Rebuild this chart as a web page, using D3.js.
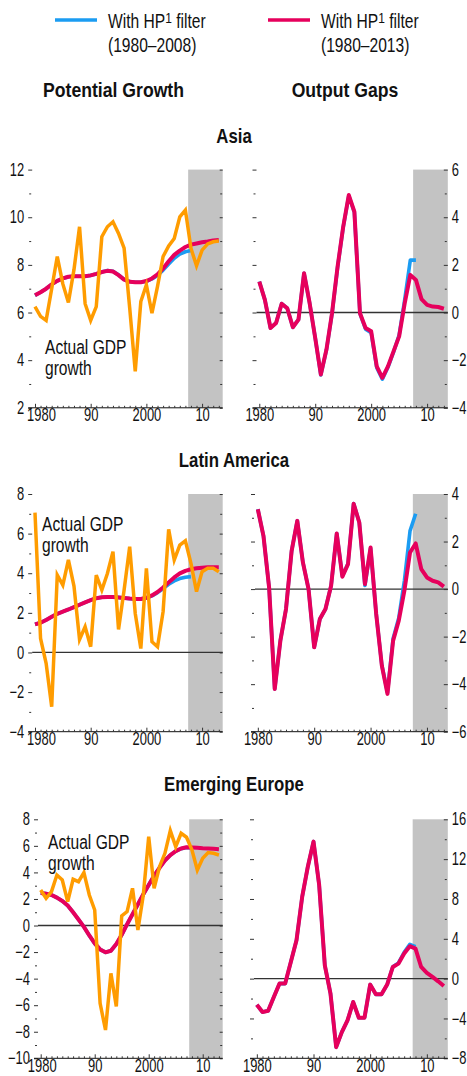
<!DOCTYPE html>
<html>
<head>
<meta charset="utf-8">
<script src="https://cdn.jsdelivr.net/npm/d3@7"></script>
<style>
  body { margin: 0; background: #fff; }
  svg text { font-family: "Liberation Sans", Arial, sans-serif; fill: #111; }
</style>
</head>
<body>
<div id="chart"></div>
<script>
// Years on the x axis (same for every panel)
const years = [1980, 1981, 1982, 1983, 1984, 1985, 1986, 1987, 1988, 1989,
  1990, 1991, 1992, 1993, 1994, 1995, 1996, 1997, 1998, 1999,
  2000, 2001, 2002, 2003, 2004, 2005, 2006, 2007, 2008, 2009,
  2010, 2011, 2012, 2013];
const decadeTicks = [1980, 1990, 2000, 2010];
const decadeLabels = ["1980", "90", "2000", "10"];

// Asia
const asiaActual = [6.25, 5.84, 5.67, 7.0, 8.35, 7.2, 6.42, 7.8, 9.6, 6.37,
  5.67, 6.25, 9.18, 9.6, 9.81, 9.32, 8.7, 6.2, 3.53, 6.46,
  7.16, 5.97, 7.1, 8.35, 8.8, 9.11, 10.02, 10.3, 8.7, 7.96,
  8.62, 8.88, 8.97, 9.0];
const asiaPot13 = [6.72, 6.85, 7.0, 7.18, 7.33, 7.43, 7.5, 7.52, 7.52, 7.52,
  7.56, 7.62, 7.7, 7.75, 7.72, 7.57, 7.38, 7.29, 7.27, 7.27,
  7.32, 7.43, 7.6, 7.85, 8.15, 8.42, 8.6, 8.75, 8.85, 8.9,
  8.95, 8.98, 9.02, 9.04];
const asiaPot08 = [6.72, 6.85, 7.0, 7.18, 7.33, 7.43, 7.5, 7.52, 7.52, 7.52,
  7.56, 7.62, 7.7, 7.76, 7.73, 7.58, 7.39, 7.3, 7.27, 7.27,
  7.31, 7.41, 7.56, 7.78, 8.04, 8.28, 8.45, 8.55, 8.6];
const asiaGap13 = [1.3, 0.53, -0.65, -0.44, 0.37, 0.18, -0.62, -0.3, 1.65, 0.39,
  -1.07, -2.6, -1.56, -0.03, 1.93, 3.6, 4.93, 4.23, -0.03, -0.65,
  -0.79, -2.26, -2.74, -2.26, -1.63, -1.0, 0.39, 1.58, 1.37, 0.56,
  0.32, 0.25, 0.23, 0.16];
const asiaGap08 = [1.3, 0.53, -0.65, -0.44, 0.37, 0.18, -0.62, -0.3, 1.65, 0.39,
  -1.07, -2.62, -1.58, -0.05, 1.9, 3.58, 4.9, 4.2, -0.05, -0.7,
  -0.85, -2.32, -2.8, -2.3, -1.66, -0.95, 0.55, 2.2, 2.2];

// Latin America
const latamActual = [7.06, 0.71, -0.55, -2.74, 3.91, 3.4, 4.67, 3.35, 0.66, 1.3,
  0.29, 3.91, 3.15, 3.99, 5.09, 1.16, 3.15, 5.34, 1.97, 0.2,
  4.25, 0.54, 0.29, 2.06, 6.22, 4.67, 5.42, 5.64, 4.5, 3.07,
  4.08, 4.25, 4.25, 4.08];
const latamPot13 = [1.42, 1.5, 1.64, 1.8, 1.95, 2.06, 2.17, 2.29, 2.41, 2.53,
  2.64, 2.74, 2.79, 2.8, 2.8, 2.78, 2.75, 2.72, 2.7, 2.7,
  2.76, 2.88, 3.05, 3.28, 3.54, 3.79, 3.99, 4.12, 4.2, 4.25,
  4.28, 4.3, 4.3, 4.3];
const latamPot08 = [1.42, 1.5, 1.64, 1.8, 1.95, 2.06, 2.17, 2.29, 2.41, 2.53,
  2.64, 2.74, 2.79, 2.8, 2.8, 2.78, 2.75, 2.72, 2.7, 2.7,
  2.75, 2.86, 3.02, 3.22, 3.44, 3.61, 3.73, 3.8, 3.83];
const latamGap13 = [3.36, 2.24, 0.07, -4.2, -2.17, -0.84, 1.61, 2.87, 1.12, 0.0,
  -2.45, -1.26, -0.84, 0.14, 2.34, 0.52, 1.05, 3.59, 2.8, 0.21,
  1.75, -1.05, -3.22, -4.41, -2.17, -1.33, -0.07, 1.54, 1.92, 0.84,
  0.49, 0.35, 0.28, 0.1];
const latamGap08 = [3.36, 2.24, 0.07, -4.2, -2.17, -0.84, 1.61, 2.87, 1.12, 0.0,
  -2.45, -1.26, -0.84, 0.14, 2.34, 0.55, 1.08, 3.6, 2.8, 0.15,
  1.72, -1.05, -3.2, -4.35, -2.08, -1.22, 0.35, 2.45, 3.17];

// Emerging Europe
const eeActual = [2.68, 2.05, 2.55, 3.8, 3.43, 1.8, 3.48, 3.3, 3.98, 2.3,
  1.17, -5.86, -7.87, -3.6, -6.1, 0.72, 1.05, 2.8, -0.33, 2.3,
  6.7, 2.8, 4.43, 5.44, 7.15, 5.94, 6.95, 6.65, 5.7, 4.18,
  5.06, 5.49, 5.44, 5.31];
const eePot13 = [2.45, 2.4, 2.3, 2.1, 1.85, 1.5, 1.0, 0.45, -0.1, -0.75,
  -1.35, -1.8, -2.02, -1.9, -1.4, -0.7, 0.1, 0.85, 1.6, 2.35,
  3.05, 3.75, 4.35, 4.9, 5.3, 5.6, 5.8, 5.9, 5.88, 5.85,
  5.82, 5.8, 5.78, 5.75];
const eePot08 = [2.45, 2.4, 2.3, 2.1, 1.85, 1.5, 1.0, 0.45, -0.1, -0.75,
  -1.35, -1.8, -2.02, -1.9, -1.4, -0.7, 0.1, 0.85, 1.6, 2.35,
  3.05, 3.75, 4.35, 4.9, 5.3, 5.6, 5.79, 5.88, 5.85];
const eeGap13 = [-2.62, -3.36, -3.22, -1.85, -0.5, -0.5, 1.68, 3.86, 8.2, 11.24,
  13.76, 9.4, 1.34, -1.51, -6.88, -5.37, -4.2, -2.35, -3.93, -3.93,
  -0.6, -1.58, -1.58, -0.6, 1.17, 1.51, 2.52, 3.26, 3.02, 1.17,
  0.57, 0.17, -0.27, -0.74];
const eeGap08 = [-2.62, -3.36, -3.22, -1.85, -0.5, -0.5, 1.68, 3.86, 8.2, 11.24,
  13.76, 9.4, 1.34, -1.51, -6.88, -5.37, -4.2, -2.35, -3.93, -3.93,
  -0.6, -1.58, -1.58, -0.6, 1.2, 1.58, 2.65, 3.45, 3.2];

// Colours
const blue = "#1b9cf2";
const red = "#e6005c";
const orange = "#ff9c00";
const shade = "#c3c3c3";

const W = 467, H = 1076;
const svg = d3.select("#chart").append("svg")
  .attr("width", W)
  .attr("height", H);

// No condensed face is installed, so squeeze text horizontally instead
function condense(sel, s) {
  sel.each(function() {
    const t = d3.select(this);
    const x = +t.attr("x") || 0;
    t.attr("x", x / s).attr("transform", `scale(${s},1)`);
    t.selectAll("tspan").each(function() {
      const ts = d3.select(this);
      if (ts.attr("x") !== null) ts.attr("x", +ts.attr("x") / s);
    });
  });
}

// Legend
const legend = [
  { color: blue, x: 55, label: "(1980–2008)" },
  { color: red, x: 268, label: "(1980–2013)" }
];
legend.forEach(l => {
  svg.append("line")
    .attr("x1", l.x).attr("x2", l.x + 42)
    .attr("y1", 20).attr("y2", 20)
    .attr("stroke", l.color).attr("stroke-width", 3.5);
  const t = svg.append("text").attr("x", l.x + 53).attr("y", 28).style("font-size", "19.5px");
  t.append("tspan").text("With HP");
  t.append("tspan").attr("dy", -5).style("font-size", "15px").text("1");
  t.append("tspan").attr("dy", 5).text(" filter");
  condense(t, 0.8);
  condense(svg.append("text").attr("x", l.x + 53).attr("y", 52.5).style("font-size", "19.5px").text(l.label), 0.8);
});

// Column headers
condense(svg.append("text").attr("x", 113.5).attr("y", 97).attr("text-anchor", "middle")
  .style("font-size", "21px").style("font-weight", "bold").text("Potential Growth"), 0.84);
condense(svg.append("text").attr("x", 345).attr("y", 97).attr("text-anchor", "middle")
  .style("font-size", "21px").style("font-weight", "bold").text("Output Gaps"), 0.84);

const rows = [
  {
    title: "Asia", titleY: 143, top: 169.6, bottom: 407.8,
    left: { x0: 32.2, domain: [2, 12], major: 2, minor: 1, zero: false, actual: asiaActual, full: asiaPot13, short: asiaPot08, note: [45, 354], shift: 6 },
    right: { x0: 256.5, domain: [-4, 6], major: 2, minor: 1, zero: true, full: asiaGap13, short: asiaGap08 }
  },
  {
    title: "Latin America", titleY: 467, top: 494, bottom: 731.7,
    left: { x0: 32.2, domain: [-4, 8], major: 2, minor: 1, zero: true, actual: latamActual, full: latamPot13, short: latamPot08, note: [42, 531.5], shift: 6 },
    right: { x0: 255, domain: [-6, 4], major: 2, minor: 1, zero: true, full: latamGap13, short: latamGap08 }
  },
  {
    title: "Emerging Europe", titleY: 791, top: 819.3, bottom: 1058.3,
    left: { x0: 38, domain: [-10, 8], major: 2, minor: 1, zero: true, actual: eeActual, full: eePot13, short: eePot08, note: [48, 849], shift: 1 },
    right: { x0: 254, domain: [-8, 16], major: 4, minor: 2, zero: true, full: eeGap13, short: eeGap08 }
  }
];

function drawPanel(p, row, side) {
  const x1 = side === "left" ? 222.7 : 447.8;
  const x = d3.scaleLinear().domain([1979.5, 2013.7]).range([p.x0, x1]);
  const y = d3.scaleLinear().domain(p.domain).range([row.bottom, row.top]);
  const g = svg.append("g");

  // shaded projection period
  g.append("rect")
    .attr("x", x(2007.5)).attr("y", y(p.domain[1]))
    .attr("width", x1 - x(2007.5)).attr("height", y(p.domain[0]) - y(p.domain[1]))
    .attr("fill", shade);

  if (p.zero) {
    g.append("line")
      .attr("x1", p.x0).attr("x2", x1)
      .attr("y1", y(0)).attr("y2", y(0))
      .attr("stroke", "#333").attr("stroke-width", 1.3);
  }

  const majors = d3.range(p.domain[0], p.domain[1] + 0.001, p.major);
  const minors = d3.range(p.domain[0], p.domain[1] + 0.001, p.minor).filter(v => !majors.includes(v));

  // y ticks on both sides; labels on the outer side
  const axes = [];
  axes.push(g.append("g").attr("transform", `translate(${p.x0},0)`)
    .call(d3.axisLeft(y).tickValues(majors).tickSize(4).tickPadding(4)
      .tickFormat(side === "left" ? d3.format("d") : "")));
  axes.push(g.append("g").attr("transform", `translate(${p.x0 - 1},0)`)
    .call(d3.axisLeft(y).tickValues(minors).tickSize(2).tickFormat("")));
  if (side === "left") {
    axes.push(g.append("g").attr("transform", `translate(${x1},0)`)
      .call(d3.axisLeft(y).tickValues(majors).tickSize(3).tickFormat("")));
    axes.push(g.append("g").attr("transform", `translate(${x1 - 0.5},0)`)
      .call(d3.axisLeft(y).tickValues(minors).tickSize(2).tickFormat("")));
  } else {
    axes.push(g.append("g").attr("transform", `translate(${x1 - 4},0)`)
      .call(d3.axisRight(y).tickValues(majors).tickSize(4).tickPadding(4).tickFormat(d3.format("d"))));
    axes.push(g.append("g").attr("transform", `translate(${x1 - 3},0)`)
      .call(d3.axisRight(y).tickValues(minors).tickSize(2).tickFormat("")));
  }

  // x axis: line, yearly ticks pointing up, decade labels below
  g.append("line")
    .attr("x1", p.x0 - 4).attr("x2", x1)
    .attr("y1", row.bottom).attr("y2", row.bottom)
    .attr("stroke", "#111").attr("stroke-width", 1);
  axes.push(g.append("g").attr("transform", `translate(0,${row.bottom})`)
    .call(d3.axisBottom(x).tickValues(years.filter(v => !decadeTicks.includes(v))).tickSize(-2).tickFormat("")));
  const xAx = g.append("g").attr("transform", `translate(0,${row.bottom})`)
    .call(d3.axisBottom(x).tickValues(decadeTicks).tickSize(-4).tickPadding(1)
      .tickFormat((d, i) => decadeLabels[i]));
  axes.push(xAx);

  axes.forEach(a => {
    a.select(".domain").remove();
    a.selectAll(".tick line").attr("stroke", "#333");
    a.selectAll(".tick text").style("font-size", "17.5px").attr("fill", "#111")
      .style("font-family", "\"Liberation Sans\", Arial, sans-serif");
    condense(a.selectAll(".tick text"), 0.74);
  });
  if (side === "left") {
    xAx.selectAll(".tick text").filter(d => d === 1980).attr("dx", p.shift / 0.74);
  }

  const line = d3.line().x((d, i) => x(years[i])).y(d => y(d));

  g.append("path").datum(p.short)
    .attr("fill", "none").attr("stroke", blue).attr("stroke-width", 3.6)
    .attr("stroke-linejoin", "round").attr("d", line);
  g.append("path").datum(p.full)
    .attr("fill", "none").attr("stroke", red).attr("stroke-width", 4)
    .attr("stroke-linejoin", "round").attr("d", line);
  if (p.actual) {
    g.append("path").datum(p.actual)
      .attr("fill", "none").attr("stroke", orange).attr("stroke-width", 3.5)
      .attr("stroke-linejoin", "miter").attr("d", line);
  }

  if (p.note) {
    const t = g.append("text").style("font-size", "19.5px");
    t.append("tspan").attr("x", p.note[0]).attr("y", p.note[1]).text("Actual GDP");
    t.append("tspan").attr("x", p.note[0]).attr("y", p.note[1] + 21).text("growth");
    condense(t, 0.8);
  }
}

rows.forEach(row => {
  condense(svg.append("text").attr("x", 234).attr("y", row.titleY).attr("text-anchor", "middle")
    .style("font-size", "20px").style("font-weight", "bold").text(row.title), 0.84);
  drawPanel(row.left, row, "left");
  drawPanel(row.right, row, "right");
});
</script>
</body>
</html>
